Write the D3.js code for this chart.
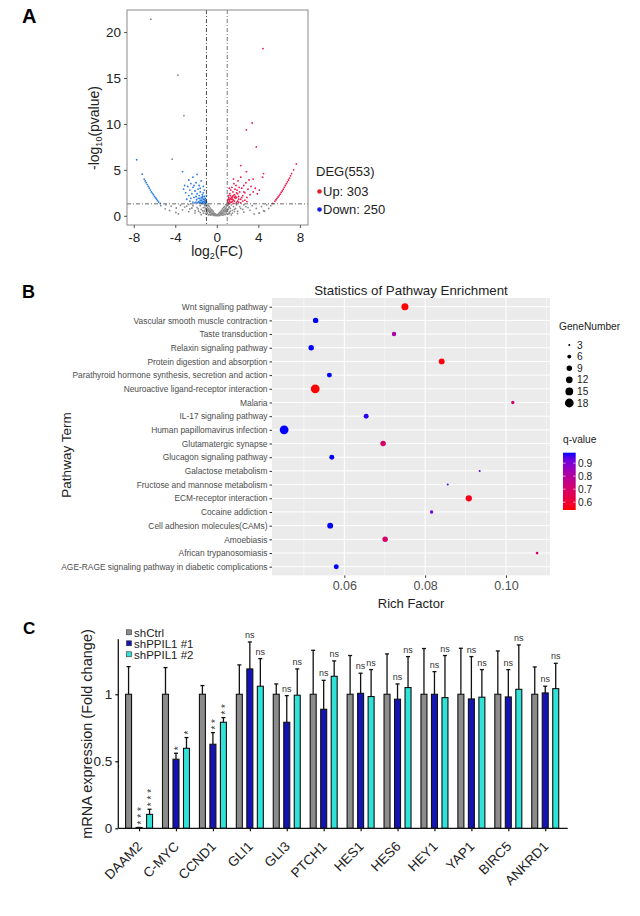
<!DOCTYPE html>
<html><head><meta charset="utf-8">
<script src="https://cdn.jsdelivr.net/npm/d3@7"></script>
<style>body{margin:0;background:#fff}svg{display:block;font-family:Arial,"Liberation Sans",sans-serif}</style>
</head><body><svg id="c" width="640" height="916"></svg>
<script>
// ---------- Panel A data (log2FC, -log10 p) ----------
const volcanoGrey = [[0,0.02],[0.1,0.05],[-0.1,0.04],[0.2,0.1],[-0.2,0.12],[0.3,0.2],[-0.3,0.18],[0.4,0.3],[-0.4,0.28],[0.5,0.4],[-0.5,0.42],[0.6,0.5],[-0.6,0.52],[0.7,0.65],[-0.7,0.6],[0.8,0.8],[-0.8,0.75],[0.9,0.95],[-0.9,0.9],[1,1.1],[-1,1.05],[0.15,0.2],[-0.15,0.22],[0.25,0.35],[-0.25,0.3],[0.35,0.45],[-0.35,0.5],[0.45,0.6],[-0.45,0.62],[0.55,0.75],[-0.55,0.7],[0.65,0.9],[-0.65,0.85],[0.75,1.0],[-0.75,1.05],[0.85,1.2],[-0.85,1.15],[0.95,1.25],[-0.95,1.28],[0.3,0.05],[-0.3,0.06],[0.5,0.1],[-0.5,0.12],[0.7,0.2],[-0.7,0.18],[0.9,0.3],[-0.9,0.28],[0.4,0.15],[-0.4,0.14],[0.6,0.3],[-0.6,0.32],[0.8,0.45],[-0.8,0.5],[1.0,0.6],[-1.0,0.55],[0.05,0.1],[-0.05,0.12],[0.5,0.25],[-0.5,0.22],[0.7,0.45],[-0.7,0.4],[0.9,0.7],[-0.9,0.65],[0.2,0.02],[-0.2,0.03],[0.6,0.08],[-0.6,0.09],[0.8,0.12],[-0.8,0.1],[1.0,0.2],[-1.0,0.22],[0.95,0.45],[-0.95,0.42],[0.85,0.6],[-0.85,0.62],[0.65,0.55],[-0.65,0.58],[0.35,0.25],[-0.35,0.28],
[1.2,0.4],[1.5,0.6],[1.8,0.8],[2.2,1.0],[2.6,1.2],[1.3,0.8],[1.6,1.0],[1.9,1.2],[1.2,1.0],[1.4,1.2],[1.1,0.2],[1.5,0.3],[2.0,0.5],[2.5,0.7],[3.0,0.9],[3.4,1.1],[1.4,0.1],[2.0,0.25],[2.6,0.4],[3.2,0.6],[3.8,0.8],[4.3,1.0],[4.8,1.2],[4.1,0.3],[4.6,0.5],[5.0,0.8],[5.2,1.1],[3.6,0.2],[1.1,0.7],[1.3,0.5],[1.7,0.45],[1.1,1.2],[1.25,0.25],[1.7,0.7],[2.3,0.8],[2.8,1.0],[1.15,0.9],
[-1.2,0.5],[-1.5,0.7],[-1.9,0.9],[-2.3,1.1],[-2.7,1.25],[-1.3,0.9],[-1.6,1.1],[-1.2,1.2],[-1.1,0.25],[-1.6,0.35],[-2.1,0.55],[-2.6,0.75],[-3.1,0.95],[-3.5,1.15],[-1.5,0.12],[-2.1,0.3],[-2.7,0.45],[-3.3,0.65],[-3.9,0.85],[-4.4,1.05],[-4.9,1.2],[-3.94,0.36],[-4.55,0.58],[-4.97,0.76],[-5.4,1.1],[-3.7,0.2],[-1.1,0.75],[-1.35,0.55],[-1.75,0.5],[-1.1,1.15],[-1.3,0.3],[-1.8,0.75],[-2.4,0.85],[-2.9,1.05],[-1.15,0.95],
[-6.35,21.4],[-3.75,15.3],[-3.17,10.9],[-4.3,6.16],[4.07,0.3],[4.5,0.55]];
const volcanoDown = [[-7.72,6.1],[-7.18,4.53],[-7.0,4.0],[-6.9,3.8],[-6.8,3.6],[-6.7,3.4],[-6.6,3.2],[-6.5,3.0],[-6.4,2.8],[-6.3,2.6],[-6.2,2.45],[-6.1,2.3],[-6.0,2.1],[-5.9,1.95],[-5.8,1.8],[-5.7,1.65],[-5.6,1.5],[-5.45,1.35],
[-1.1,1.4],[-1.2,1.6],[-1.3,1.8],[-1.4,1.5],[-1.5,2.0],[-1.6,1.7],[-1.7,2.2],[-1.8,1.9],[-1.9,2.4],[-2.0,1.5],[-1.2,2.1],[-1.3,2.5],[-1.1,1.9],[-1.4,2.3],[-1.6,2.6],[-1.8,2.9],[-2.1,2.7],[-2.3,3.1],[-2.5,3.5],[-2.7,3.9],[-2.2,2.0],[-2.4,2.4],[-2.6,2.8],[-2.8,3.2],[-3.0,2.5],[-2.9,1.8],[-2.6,1.6],[-3.2,2.9],[-2.0,3.6],[-1.5,3.8],[-1.9,4.5],[-1.3,3.2],[-1.7,3.3],[-2.3,4.2],[-1.0,1.5],[-1.05,1.7],[-1.15,1.45],[-1.25,1.35],[-1.35,1.4],[-1.45,1.7],[-1.55,1.45],[-1.65,1.9],[-1.75,1.55],[-1.85,1.4],[-1.95,1.75],[-2.1,1.4],[-2.3,1.5],[-2.5,1.9],[-2.7,2.2],[-3.1,3.3],[-3.3,4.8],[-1.2,2.8],[-1.0,2.2],[-1.6,3.0],[-2.2,3.3],[-1.1,1.6],[-1.2,1.8],[-1.3,1.55],[-1.4,1.95],[-1.5,1.65],[-1.45,1.35],[-1.05,1.35],[-1.35,2.1],[-1.7,1.45],[-2.0,2.1]];
const volcanoUp = [[7.66,5.65],[7.4,5.0],[7.2,4.6],[7.1,4.35],[7.0,4.1],[6.9,3.9],[6.8,3.7],[6.7,3.5],[6.6,3.3],[6.5,3.1],[6.4,2.9],[6.3,2.7],[6.2,2.55],[6.1,2.35],[6.0,2.2],[5.9,2.05],[5.8,1.9],[5.7,1.75],[5.6,1.6],[5.4,1.35],
[1.1,1.4],[1.2,1.6],[1.3,1.9],[1.4,1.5],[1.5,2.1],[1.6,1.7],[1.7,2.3],[1.8,1.9],[1.9,2.5],[2.0,1.6],[2.1,2.1],[2.2,2.6],[2.3,1.8],[2.4,3.0],[2.5,2.2],[2.6,3.3],[2.7,2.5],[2.8,3.6],[2.9,2.0],[3.0,2.9],[3.1,3.9],[3.2,2.3],[3.3,3.2],[3.5,2.6],[3.7,3.0],[3.9,2.4],[4.1,2.8],[1.15,2.0],[1.25,2.4],[1.35,2.8],[1.45,3.1],[1.55,2.6],[1.65,3.5],[1.75,2.9],[1.85,3.3],[1.95,2.8],[2.05,3.8],[2.15,3.1],[2.3,4.2],[1.05,1.7],[1.1,2.2],[1.3,1.45],[1.5,1.55],[1.7,1.6],[1.9,1.45],[2.1,1.5],[2.3,1.4],[2.5,1.6],[2.7,1.7],[2.9,1.55],[1.2,3.0],[1.6,4.0],[2.85,4.8],[2.3,5.47],[2.85,9.35],[3.4,10.1],[3.8,7.5],[4.45,18.2],[4.5,4.6],[4.4,4.2],[3.5,4.0],[1.8,2.1],[2.0,2.4],[1.4,1.8],[1.6,2.2],[1.2,1.35],[1.1,1.8],[1.3,2.2],[1.5,1.8],[1.7,2.0],[1.9,2.0],[2.1,1.8],[1.25,1.75],[1.45,2.0],[1.65,1.35],[1.05,1.5],[2.4,2.0],[2.6,2.6]];
const volcanoXTicks = [-8,-4,0,4,8];
const volcanoYTicks = [0,5,10,15,20];
const degLegend = ["DEG(553)","Up: 303","Down: 250"];

// ---------- Panel B data ----------
const pathwayTerms = ["Wnt signalling pathway","Vascular smooth muscle contraction","Taste transduction","Relaxin signaling pathway","Protein digestion and absorption","Parathyroid hormone synthesis, secretion and action","Neuroactive ligand-receptor interaction","Malaria","IL-17 signaling pathway","Human papillomavirus infection","Glutamatergic synapse","Glucagon signaling pathway","Galactose metabolism","Fructose and mannose metabolism","ECM-receptor interaction","Cocaine addiction","Cell adhesion molecules(CAMs)","Amoebiasis","African trypanosomiasis","AGE-RAGE signaling pathway in diabetic complications"];
const richFactor = [0.0750,0.0529,0.0723,0.0518,0.0841,0.0563,0.0528,0.1017,0.0654,0.0451,0.0696,0.0569,0.0935,0.0856,0.0908,0.0816,0.0565,0.0701,0.1077,0.0580];
const geneNumber = [13,9,7,9,10,8,18,5,8,18,9,8,3,3,11,5,10,9,4,8];
const qValue = [0.54,0.98,0.82,0.98,0.55,0.98,0.54,0.71,0.97,0.98,0.70,0.98,0.94,0.95,0.56,0.91,0.98,0.70,0.71,0.98];
const richTicks = [0.06,0.08,0.10];
const sizeLegend = [3,6,9,12,15,18];
const qTicks = [0.9,0.8,0.7,0.6];

// ---------- Panel C data ----------
const genes = ["DAAM2","C-MYC","CCND1","GLI1","GLI3","PTCH1","HES1","HES6","HEY1","YAP1","BIRC5","ANKRD1"];
const groups = ["shCtrl","shPPIL1 #1","shPPIL1 #2"];
const ctrlMean = [1,1,1,1,1,1,1,1,1,1,1,1];
const ctrlErr  = [1.206,1.199,1.065,1.219,1.077,1.328,1.289,1.301,1.341,1.343,1.323,1.204];
const sh1Mean  = [0.006,0.515,0.627,1.189,0.791,0.888,1.007,0.963,1.0,0.965,0.98,1.01];
const sh1Err   = [0.006,0.56,0.714,1.39,0.99,1.104,1.157,1.077,1.169,1.281,1.184,1.06];
const sh2Mean  = [0.104,0.597,0.791,1.06,0.993,1.134,0.983,1.05,0.975,0.978,1.037,1.042];
const sh2Err   = [0.142,0.677,0.826,1.266,1.189,1.249,1.184,1.281,1.289,1.184,1.368,1.231];
const sh1Sig   = ["***","*","**","ns","ns","ns","ns","ns","ns","ns","ns","ns"];
const sh2Sig   = ["***","*","**","ns","ns","ns","ns","ns","ns","ns","ns","ns"];
const fcTicks = [0,0.5,1];

const svg = d3.select("#c");
const F = 'Arial,"Liberation Sans",sans-serif';

// ===================== PANEL A =====================
svg.append("text").attr("x",22).attr("y",23).attr("font-size",20).attr("font-weight","bold").text("A");
const xA = d3.scaleLinear().domain([-8.65,8.78]).range([127,308]);
const yA = d3.scaleLinear().domain([-1.0,22.4]).range([225,10]);
const gA = svg.append("g");
svg.append("clipPath").attr("id","clipA").append("rect").attr("x",127).attr("y",10).attr("width",181).attr("height",215);
const ptsA = gA.append("g").attr("clip-path","url(#clipA)");
ptsA.selectAll(".g").data(volcanoGrey).join("circle").attr("cx",d=>xA(d[0])).attr("cy",d=>yA(d[1])).attr("r",0.9).attr("fill","#8a8a8a");
ptsA.selectAll(".b").data(volcanoDown).join("circle").attr("cx",d=>xA(d[0])).attr("cy",d=>yA(d[1])).attr("r",0.9).attr("fill","#2b7be0");
ptsA.selectAll(".r").data(volcanoUp).join("circle").attr("cx",d=>xA(d[0])).attr("cy",d=>yA(d[1])).attr("r",0.9).attr("fill","#f0184a");
gA.append("line").attr("x1",xA(-1)).attr("x2",xA(-1)).attr("y1",10).attr("y2",225).attr("stroke","#222").attr("stroke-dasharray","4,2,1,2").attr("stroke-width",0.8);
gA.append("line").attr("x1",xA(1)).attr("x2",xA(1)).attr("y1",10).attr("y2",225).attr("stroke","#555").attr("stroke-dasharray","4,2,1,2").attr("stroke-width",0.8);
gA.append("line").attr("x1",127).attr("x2",308).attr("y1",yA(1.301)).attr("y2",yA(1.301)).attr("stroke","#444").attr("stroke-dasharray","4,2,1,2").attr("stroke-width",0.8);
gA.append("rect").attr("x",127).attr("y",10).attr("width",181).attr("height",215).attr("fill","none").attr("stroke","#8a8a8a").attr("stroke-width",1);
const axAL = gA.append("g").attr("transform","translate(127,0)").call(d3.axisLeft(yA).tickValues(volcanoYTicks).tickSize(3).tickPadding(3));
const axAB = gA.append("g").attr("transform","translate(0,225)").call(d3.axisBottom(xA).tickValues(volcanoXTicks).tickSize(3).tickPadding(4).tickFormat(d=>d<0?"-"+Math.abs(d):d));
[axAL,axAB].forEach(a=>{a.select(".domain").remove();a.selectAll("line").attr("stroke","#555");a.selectAll("text").attr("font-size",13.5).attr("fill","#222").attr("font-family",F);});
const xlabA = svg.append("text").attr("x",217).attr("y",256).attr("text-anchor","middle").attr("font-size",14).attr("fill","#222");
xlabA.append("tspan").text("log");xlabA.append("tspan").attr("font-size",9).attr("dy",3).text("2");xlabA.append("tspan").attr("dy",-3).text("(FC)");
const ylabA = svg.append("text").attr("transform","translate(99,128) rotate(-90)").attr("text-anchor","middle").attr("font-size",14).attr("fill","#222");
ylabA.append("tspan").text("-log");ylabA.append("tspan").attr("font-size",9).attr("dy",3).text("10");ylabA.append("tspan").attr("dy",-3).text("(pvalue)");
svg.append("text").attr("x",316).attr("y",176).attr("font-size",13).attr("fill","#222").text(degLegend[0]);
svg.append("circle").attr("cx",319.5).attr("cy",191.5).attr("r",2.3).attr("fill","#e0202a");
svg.append("text").attr("x",323).attr("y",196).attr("font-size",13).attr("fill","#222").text(degLegend[1]);
svg.append("circle").attr("cx",319.5).attr("cy",209.5).attr("r",2.3).attr("fill","#1a1ae6");
svg.append("text").attr("x",323).attr("y",214).attr("font-size",13).attr("fill","#222").text(degLegend[2]);

// ===================== PANEL B =====================
svg.append("text").attr("x",22).attr("y",298).attr("font-size",18).attr("font-weight","bold").text("B");
const xB = d3.scaleLinear().domain([0.0421,0.1109]).range([272,550]);
const yB = d3.scalePoint().domain(pathwayTerms).range([306.7,566.7]);
const rB = d3.scaleSqrt().domain([3,18]).range([1,4.4]);
const qExt = d3.extent(qValue);
const cB = d3.scaleLinear().domain(qExt).range(["red","blue"]).interpolate(d3.interpolateLab);
const gB = svg.append("g");
gB.append("rect").attr("x",272).attr("y",298).attr("width",278).attr("height",277.4).attr("fill","#ebebeb");
[0.05,0.07,0.09,0.11].forEach(v=>gB.append("line").attr("x1",xB(v)).attr("x2",xB(v)).attr("y1",298).attr("y2",575.4).attr("stroke","#fff").attr("stroke-width",0.5));
richTicks.forEach(v=>gB.append("line").attr("x1",xB(v)).attr("x2",xB(v)).attr("y1",298).attr("y2",575.4).attr("stroke","#fff").attr("stroke-width",1));
pathwayTerms.forEach(t=>gB.append("line").attr("x1",272).attr("x2",550).attr("y1",yB(t)).attr("y2",yB(t)).attr("stroke","#fff").attr("stroke-width",1));
const ptData = pathwayTerms.map((t,i)=>({t,rf:richFactor[i],n:geneNumber[i],q:qValue[i]}));
gB.selectAll(".pt").data(ptData).join("circle").attr("cx",d=>xB(d.rf)).attr("cy",d=>yB(d.t)).attr("r",d=>rB(d.n)).attr("fill",d=>cB(d.q));
const axBL = gB.append("g").attr("transform","translate(272,0)").call(d3.axisLeft(yB).tickSize(2.5).tickPadding(2));
axBL.selectAll("text").attr("font-size",8.4).attr("fill","#4d4d4d").attr("font-family",F);
const axBB = gB.append("g").attr("transform","translate(0,575.4)").call(d3.axisBottom(xB).tickValues(richTicks).tickSize(2.5).tickPadding(3).tickFormat(d3.format(".2f")));
axBB.selectAll("text").attr("font-size",12.5).attr("fill","#4d4d4d").attr("font-family",F);
[axBL,axBB].forEach(a=>{a.select(".domain").remove();a.selectAll("line").attr("stroke","#333");});
svg.append("text").attr("x",411).attr("y",295).attr("text-anchor","middle").attr("font-size",13.3).attr("fill","#222").text("Statistics of Pathway Enrichment");
svg.append("text").attr("x",411).attr("y",608).attr("text-anchor","middle").attr("font-size",13).attr("fill","#222").text("Rich Factor");
svg.append("text").attr("transform","translate(71,455) rotate(-90)").attr("text-anchor","middle").attr("font-size",13.5).attr("fill","#222").text("Pathway Term");
svg.append("text").attr("x",559).attr("y",330).attr("font-size",10.2).attr("fill","#222").text("GeneNumber");
sizeLegend.forEach((s,i)=>{
  const y=345+i*11.6;
  svg.append("circle").attr("cx",569.3).attr("cy",y).attr("r",rB(s)).attr("fill","#000");
  svg.append("text").attr("x",577).attr("y",y+3.6).attr("font-size",10.2).attr("fill","#222").text(s);
});
svg.append("text").attr("x",563).attr("y",443).attr("font-size",10.2).attr("fill","#222").text("q-value");
const grad = svg.append("defs").append("linearGradient").attr("id","qg").attr("x1",0).attr("y1",1).attr("x2",0).attr("y2",0);
d3.range(0,1.01,0.1).forEach(t=>grad.append("stop").attr("offset",t).attr("stop-color",cB(qExt[0]+t*(qExt[1]-qExt[0]))));
const yLeg = d3.scaleLinear().domain(qExt).range([510,452.7]);
svg.append("rect").attr("x",563).attr("y",452.7).attr("width",12.7).attr("height",57.3).attr("fill","url(#qg)");
qTicks.forEach(q=>{
  svg.append("line").attr("x1",563).attr("x2",565.5).attr("y1",yLeg(q)).attr("y2",yLeg(q)).attr("stroke","#fff").attr("stroke-width",0.6);
  svg.append("line").attr("x1",573.2).attr("x2",575.7).attr("y1",yLeg(q)).attr("y2",yLeg(q)).attr("stroke","#fff").attr("stroke-width",0.6);
  svg.append("text").attr("x",578).attr("y",yLeg(q)+3.6).attr("font-size",10.2).attr("fill","#222").text(q.toFixed(1));
});

// ===================== PANEL C =====================
svg.append("text").attr("x",23).attr("y",634).attr("font-size",17).attr("font-weight","bold").text("C");
const xC = d3.scaleBand().domain(genes).range([120.6,563.7]);
const yC = d3.scaleLinear().domain([0,1.41]).range([828.3,639.3]);
const colsC = ["#8c8c8c","#1414b4","#30e2d8"];
const offs = [-10.5,0,10.5];
const means = [ctrlMean,sh1Mean,sh2Mean], errs = [ctrlErr,sh1Err,sh2Err], sigs=[null,sh1Sig,sh2Sig];
const gC = svg.append("g");
genes.forEach((g,i)=>{
  const cx = xC(g)+xC.bandwidth()/2;
  [0,1,2].forEach(k=>{
    const x = cx+offs[k], m=means[k][i], e=errs[k][i];
    gC.append("line").attr("x1",x).attr("x2",x).attr("y1",yC(m)).attr("y2",yC(e)).attr("stroke","#111").attr("stroke-width",1.3);
    gC.append("line").attr("x1",x-2).attr("x2",x+2).attr("y1",yC(e)).attr("y2",yC(e)).attr("stroke","#111").attr("stroke-width",1.3);
    gC.append("rect").attr("x",x-3).attr("y",yC(m)).attr("width",6).attr("height",Math.max(0.5,yC(0)-yC(m))).attr("fill",colsC[k]).attr("stroke","#111").attr("stroke-width",1.1);
    if(k>0){
      const s=sigs[k][i], top=yC(e);
      if(s==="ns"){
        gC.append("text").attr("x",x).attr("y",top-4).attr("text-anchor","middle").attr("font-size",9).attr("fill","#333").text("ns");
      } else {
        // asterisks as one string turned to run upward (like the y-axis titles)
        const n = s.length, len = n*3.9 + (n-1)*2.8;
        const tx = (x+5.6).toFixed(1), ty = (top-3-len/2).toFixed(1);
        gC.append("text").attr("transform","translate("+tx+","+ty+") rotate(-90)").attr("text-anchor","middle")
          .attr("font-size",10).attr("fill","#333").text(s.split("").join(" "));
      }
    }
  });
});
gC.append("line").attr("x1",118.3).attr("x2",567.7).attr("y1",yC(0)).attr("y2",yC(0)).attr("stroke","#111").attr("stroke-width",1.3);
gC.append("line").attr("x1",118.3).attr("x2",118.3).attr("y1",yC(0)).attr("y2",639.3).attr("stroke","#111").attr("stroke-width",1.3);
const axCL = gC.append("g").attr("transform","translate(118.3,0)").call(d3.axisLeft(yC).tickValues(fcTicks).tickSize(3).tickPadding(3).tickFormat(d=>d));
axCL.select(".domain").remove();
axCL.selectAll("line").attr("stroke","#111").attr("stroke-width",1.2);
axCL.selectAll("text").attr("font-size",13.5).attr("fill","#222").attr("font-family",F);
const xCpt = d3.scalePoint().domain(genes).range([xC(genes[0])+xC.bandwidth()/2, xC(genes[genes.length-1])+xC.bandwidth()/2]);
const axCB = gC.append("g").attr("transform",`translate(0,${yC(0)})`).call(d3.axisBottom(xCpt).tickSize(3).tickFormat(""));
axCB.select(".domain").remove();
axCB.selectAll("line").attr("stroke","#111").attr("stroke-width",1.2);
genes.forEach(g=>{
  gC.append("text").attr("transform",`translate(${xCpt(g)+4},${yC(0)+19}) rotate(-45)`).attr("text-anchor","end").attr("font-size",13.5).attr("fill","#222").text(g);
});
svg.append("text").attr("transform","translate(92,734) rotate(-90)").attr("text-anchor","middle").attr("font-size",14.5).attr("fill","#222").text("mRNA expression (Fold change)");
groups.forEach((n,k)=>{
  const y=632.3+k*11;
  svg.append("rect").attr("x",126.5).attr("y",y-2.5).attr("width",5).attr("height",5).attr("fill",colsC[k]).attr("stroke","#333").attr("stroke-width",0.6);
  svg.append("text").attr("x",134).attr("y",y+4.2).attr("font-size",11.5).attr("fill","#222").text(n);
});
</script></body></html>
